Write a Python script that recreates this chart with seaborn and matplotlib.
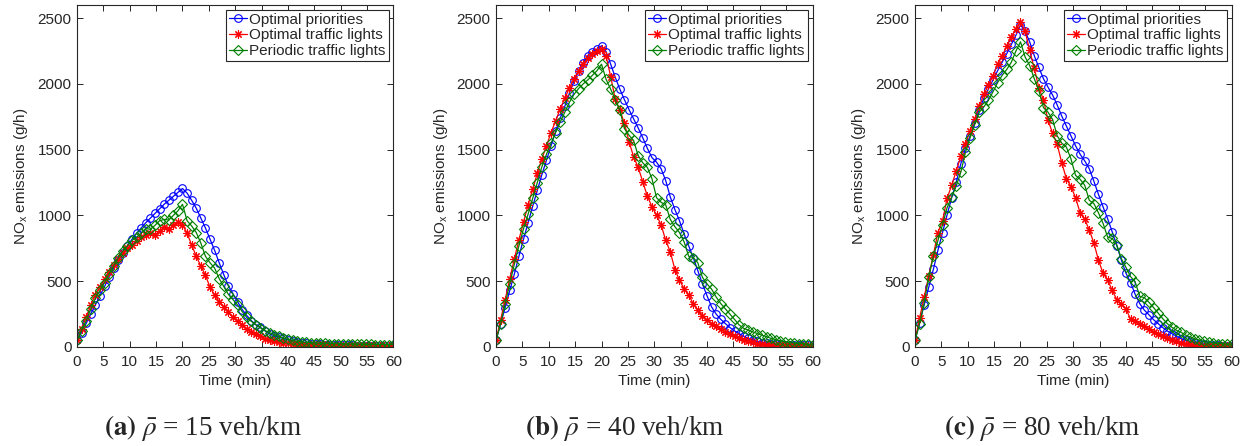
import numpy as np
import pandas as pd
import matplotlib
matplotlib.use("Agg")
import matplotlib.pyplot as plt
import seaborn as sns

# ---------------- data ----------------
time_min = np.linspace(0, 60, 70)

series_names = ["Optimal priorities", "Optimal traffic lights", "Periodic traffic lights"]
captions = ["(a)", "(b)", "(c)"]
densities = ["15", "40", "80"]

# panel (a): rho = 15 veh/km
a_priorities = [50, 110, 180, 250, 320, 390, 460, 530, 600, 660, 715, 770, 820, 865, 905, 945,
                980, 1015, 1050, 1085, 1115, 1145, 1175, 1205, 1170, 1115, 1055, 980, 905, 820,
                735, 640, 550, 465, 405, 345, 285, 240, 200, 168, 150, 122, 100, 85, 75, 65,
                55, 47, 40, 34, 30, 26, 23, 20, 18, 16, 15, 14, 13, 12, 12, 11, 11, 10, 10,
                10, 9, 9, 9, 9]
a_optimal_tl = [50, 140, 225, 320, 395, 455, 515, 570, 620, 670, 715, 750, 775, 805, 835, 855,
                870, 850, 885, 910, 895, 925, 950, 930, 865, 775, 690, 615, 545, 455, 395,
                345, 305, 265, 225, 195, 165, 135, 115, 98, 80, 63, 50, 42, 36, 31, 27, 24,
                21, 19, 17, 15, 14, 13, 12, 11, 11, 10, 10, 9, 9, 9, 8, 8, 8, 8, 8, 8, 8, 8]
a_periodic_tl = [50, 125, 200, 290, 370, 430, 490, 555, 615, 680, 730, 770, 810, 835, 865, 900,
                 895, 925, 960, 970, 965, 1000, 1035, 1085, 960, 920, 870, 790, 690, 640, 600,
                 520, 460, 400, 360, 320, 270, 225, 195, 170, 145, 125, 108, 95, 80, 68, 58,
                 50, 44, 39, 35, 32, 30, 28, 27, 26, 25, 24, 23, 22, 22, 21, 21, 20, 20, 19,
                 19, 18, 18, 18]

# panel (b): rho = 40 veh/km
b_priorities = [50, 175, 300, 430, 555, 690, 820, 945, 1070, 1190, 1310, 1420, 1530, 1640, 1740,
                1830, 1930, 2020, 2100, 2160, 2215, 2240, 2265, 2290, 2245, 2150, 2050, 1960,
                1880, 1805, 1735, 1665, 1590, 1510, 1440, 1405, 1355, 1265, 1140, 1045, 960,
                860, 770, 680, 580, 480, 390, 305, 250, 210, 178, 148, 122, 102, 82, 65, 53,
                42, 34, 28, 24, 21, 19, 17, 16, 15, 14, 13, 12, 12]
b_optimal_tl = [50, 205, 360, 520, 670, 815, 950, 1080, 1200, 1320, 1430, 1530, 1630, 1720, 1810,
                1890, 1970, 2040, 2100, 2150, 2195, 2225, 2250, 2265, 2213, 2056, 1883, 1802,
                1700, 1561, 1447, 1365, 1256, 1147, 1066, 1003, 927, 812, 723, 589, 508, 444,
                393, 330, 279, 233, 203, 178, 157, 135, 114, 96, 81, 71, 56, 46, 36, 25, 22,
                19, 17, 15, 13, 12, 11, 10, 9, 8, 8, 7]
b_periodic_tl = [50, 175, 330, 480, 630, 770, 900, 1010, 1130, 1250, 1370, 1465, 1550, 1630, 1710,
                 1785, 1860, 1920, 1965, 2000, 2030, 2065, 2100, 2150, 2035, 1960, 1880, 1800,
                 1660, 1610, 1570, 1455, 1400, 1365, 1280, 1135, 1100, 1080, 970, 915, 870,
                 800, 690, 680, 640, 530, 480, 440, 380, 330, 290, 250, 210, 168, 142, 128,
                 115, 102, 90, 78, 65, 56, 47, 40, 34, 30, 26, 24, 20, 14]

# panel (c): rho = 80 veh/km
c_priorities = [50, 185, 320, 455, 590, 735, 870, 1005, 1135, 1255, 1395, 1510, 1605, 1705, 1805,
                1890, 1960, 2030, 2100, 2165, 2230, 2300, 2370, 2450, 2400, 2320, 2215, 2125,
                2040, 1975, 1915, 1840, 1755, 1680, 1605, 1530, 1465, 1415, 1355, 1260, 1160,
                1065, 975, 875, 770, 660, 560, 490, 400, 330, 280, 245, 208, 178, 148, 122,
                102, 82, 64, 50, 40, 32, 26, 21, 17, 14, 12, 10, 8, 6]
c_optimal_tl = [50, 220, 380, 540, 700, 870, 960, 1130, 1230, 1340, 1450, 1545, 1640, 1730, 1830,
                1920, 1990, 2060, 2150, 2215, 2285, 2355, 2420, 2470, 2400, 2255, 2120, 1970,
                1880, 1725, 1625, 1540, 1400, 1280, 1220, 1135, 1020, 970, 890, 790, 660, 560,
                510, 430, 360, 325, 290, 210, 195, 178, 158, 137, 114, 97, 81, 69, 56, 43,
                33, 25, 20, 15, 13, 10, 8, 6, 5, 5, 5, 5]
c_periodic_tl = [50, 175, 335, 530, 690, 810, 930, 1060, 1140, 1225, 1330, 1480, 1590, 1690, 1785,
                 1825, 1875, 1940, 2010, 2065, 2110, 2165, 2250, 2320, 2205, 2140, 2040, 1950,
                 1820, 1785, 1730, 1605, 1550, 1520, 1430, 1305, 1275, 1230, 1115, 1090, 1020,
                 940, 835, 825, 775, 670, 605, 535, 495, 385, 375, 340, 300, 258, 216, 178,
                 150, 127, 112, 90, 76, 63, 52, 43, 36, 30, 26, 24, 22, 20]

x_ticks = list(range(0, 61, 5))
y_ticks = list(range(0, 2501, 500))

panels = [
    (a_priorities, a_optimal_tl, a_periodic_tl),
    (b_priorities, b_optimal_tl, b_periodic_tl),
    (c_priorities, c_optimal_tl, c_periodic_tl),
]

# ---------------- style ----------------
sns.set_style("ticks")
plt.rcParams["font.family"] = ["Liberation Sans", "DejaVu Sans"]
plt.rcParams["mathtext.fontset"] = "custom"
plt.rcParams["mathtext.rm"] = "Liberation Sans"
plt.rcParams["mathtext.it"] = "Liberation Sans:italic"

AX_COLOR = "#262626"
colors = ["#0000FF", "#FF0000", "#008000"]
markers = ["o", (8, 2, 0), "D"]
msizes = [5.5, 6.0, 4.6]
FS = 11

W, H = 1247, 446
fig = plt.figure(figsize=(W / 100, H / 100), dpi=100)

lefts = [77, 496, 915]
ax_w = 316.5
ax_top, ax_bottom = 5, 347
cap_centers = [203, 625, 1042]

for k, (left, series) in enumerate(zip(lefts, panels)):
    ax = fig.add_axes([left / W, 1 - ax_bottom / H, ax_w / W, (ax_bottom - ax_top) / H])
    for name, vals, col, mk, ms in zip(series_names, series, colors, markers, msizes):
        df = pd.DataFrame({"t": time_min, "v": vals})
        sns.lineplot(data=df, x="t", y="v", ax=ax, color=col, label=name,
                     marker=mk, markersize=ms, markerfacecolor="none",
                     markeredgecolor=col, markeredgewidth=0.8, linewidth=0.9,
                     errorbar=None)
    ax.set_xlim(0, 60)
    ax.set_ylim(0, 2600)
    ax.set_xticks(x_ticks)
    ax.set_yticks(y_ticks)
    ax.tick_params(direction="in", length=4, width=0.7, colors=AX_COLOR,
                   labelsize=FS, top=True, right=True)
    ax.tick_params(axis="x", pad=6)
    ax.tick_params(axis="y", pad=4)
    for sp in ax.spines.values():
        sp.set_visible(True)
        sp.set_color(AX_COLOR)
        sp.set_linewidth(0.8)
    ax.set_xlabel("Time (min)", fontsize=FS, color=AX_COLOR, labelpad=3)
    ax.set_ylabel(r"NO$_{\mathrm{x}}$ emissions (g/h)", fontsize=FS, color=AX_COLOR, labelpad=5)
    leg = ax.legend(loc="upper right", fontsize=FS, frameon=True, fancybox=False,
                    edgecolor=AX_COLOR, framealpha=1, borderaxespad=0.3,
                    handlelength=1.2, handletextpad=0.15, labelspacing=0.12, borderpad=0.2)
    leg.get_frame().set_linewidth(0.8)

    fig.text(cap_centers[k] / W, 1 - 428 / H,
             r"$\mathbf{" + captions[k] + r"}$ $\bar{\rho}$ = " + densities[k] + " veh/km",
             ha="center", va="center", fontsize=19.5, family="Liberation Serif",
             math_fontfamily="stix")

fig.savefig("out.png", dpi=100)
